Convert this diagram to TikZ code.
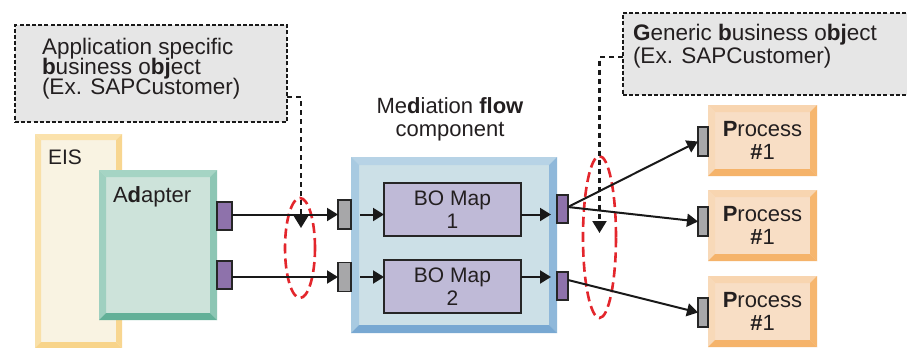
\documentclass[tikz,border=0pt]{standalone}
\usepackage{fontspec}
\setmainfont{Liberation Sans}
\usetikzlibrary{arrows.meta,calc,shapes.geometric}
\definecolor{txt}{HTML}{231F20}
\definecolor{dashfill}{HTML}{E6E6E6}
\definecolor{purp}{HTML}{8E72AB}
\definecolor{grayp}{HTML}{A7A7A9}
\definecolor{bofill}{HTML}{BFBAD7}
\definecolor{medin}{HTML}{CCE0E7}
\definecolor{medtop}{HTML}{B7D3E6}
\definecolor{medleft}{HTML}{A8CAE1}
\definecolor{medright}{HTML}{8FB8DA}
\definecolor{medbot}{HTML}{78A8D2}
\definecolor{adin}{HTML}{CDE3DA}
\definecolor{adtop}{HTML}{A5D4C4}
\definecolor{adleft}{HTML}{9FD0C0}
\definecolor{adright}{HTML}{8DC6B4}
\definecolor{adbot}{HTML}{63B098}
\definecolor{eisin}{HTML}{F9F3E2}
\definecolor{eistop}{HTML}{FBE2AC}
\definecolor{eisleft}{HTML}{F9E0A8}
\definecolor{eisright}{HTML}{F8D690}
\definecolor{eisbot}{HTML}{F8D48A}
\definecolor{prin}{HTML}{F8DEC5}
\definecolor{prtop}{HTML}{F8D5B0}
\definecolor{prleft}{HTML}{F8D9B8}
\definecolor{prright}{HTML}{F6B66E}
\definecolor{prbot}{HTML}{F5B36A}
\definecolor{redd}{HTML}{E3262C}
\newcommand\bevel[6]{%
  \fill[#3] (#1.north west) -- (#1.north east) -- ($(#1.north east)+(-#2,#2)$) -- ($(#1.north west)+(#2,#2)$) -- cycle;
  \fill[#4] (#1.north west) -- ($(#1.north west)+(#2,#2)$) -- ($(#1.south west)+(#2,-#2)$) -- (#1.south west) -- cycle;
  \fill[#5] (#1.north east) -- ($(#1.north east)+(-#2,#2)$) -- ($(#1.south east)+(-#2,-#2)$) -- (#1.south east) -- cycle;
  \fill[#6] (#1.south west) -- ($(#1.south west)+(#2,-#2)$) -- ($(#1.south east)+(-#2,-#2)$) -- (#1.south east) -- cycle;}
\tikzset{
  box/.style={rectangle, inner sep=0pt, outer sep=0pt, draw=none},
  lbl/.style={inner sep=0pt, outer sep=0pt, text=txt, font=\fontsize{11pt}{13pt}\selectfont},
  dlbl/.style={lbl, anchor=base west, font=\fontsize{11.25pt}{13pt}\selectfont},
  dbox/.style={box, fill=dashfill, draw=black!90, line width=1.2pt, dash pattern=on 2pt off 1.1pt},
  port/.style={box, draw=black!85, line width=0.8pt},
  arr/.style={draw=black!90, line width=1pt, -{Triangle[length=5.5pt,width=6.5pt]}},
  dconn/.style={draw=black!90, line width=1.1pt, dash pattern=on 2.5pt off 2pt, -{Triangle[length=6pt,width=7pt]}},
  redell/.style={ellipse, inner sep=0pt, outer sep=0pt, draw=redd, line width=1.3pt, dash pattern=on 5pt off 2.5pt},
}
\begin{document}
\begin{tikzpicture}[x=0.5pt,y=-0.5pt]
\useasboundingbox (0,0) rectangle (907,348);
\fill[white] (0,0) rectangle (907,348);

% dashed callout boxes
\node[dbox, minimum width=136pt, minimum height=48.5pt] (lbox) at (151,73.5) {};
\node[dlbl] (lt1) at (42,54.5) {Application specific};
\node[dlbl] (lt2) at (42,74.5) {\textbf{b}usiness o\textbf{bj}ect};
\node[dlbl] (lt3) at (42,94.5) {(Ex. SAPCustomer)};
\begin{scope}
\clip (0,0) rectangle (907,348);
\node[dbox, minimum width=151pt, minimum height=41pt] (rbox) at (774,54) {};
\end{scope}
\node[dlbl] (rt1) at (633,40) {\textbf{G}eneric \textbf{b}usiness o\textbf{bj}ect};
\node[dlbl] (rt2) at (633,63) {(Ex. SAPCustomer)};

% EIS and adapter
\node[box, fill=eisin, minimum width=43.5pt, minimum height=107pt] (eis) at (78.5,241) {};
\bevel{eis}{6}{eistop}{eisleft}{eisright}{eisbot}
\node[lbl, anchor=base west, font=\fontsize{10.5pt}{12pt}\selectfont] (eist) at (48,164) {EIS};
\node[box, fill=adin, minimum width=59pt, minimum height=75pt] (adapter) at (158,245) {};
\bevel{adapter}{7}{adtop}{adleft}{adright}{adbot}
\node[lbl, anchor=base west] (adt) at (113,202) {A\textbf{d}apter};
\node[port, fill=purp, minimum width=7.5pt, minimum height=14pt] (ap1) at (224.5,216) {};
\node[port, fill=purp, minimum width=7.5pt, minimum height=14pt] (ap2) at (224.5,275) {};

% mediation flow component
\node[lbl, anchor=base] (mt1) at (450,113) {Me\textbf{d}iation \textbf{flow}};
\node[lbl, anchor=base] (mt2) at (450,136) {component};
\node[box, fill=medin, minimum width=103pt, minimum height=88pt] (med) at (454,245) {};
\bevel{med}{8}{medtop}{medleft}{medright}{medbot}
\node[box, fill=bofill, draw=black!85, line width=1pt, minimum width=68.5pt, minimum height=26.5pt, align=center, text=txt, font=\fontsize{10.5pt}{11.5pt}\selectfont] (bo1) at (452.5,209.5) {BO Map\\1};
\node[box, fill=bofill, draw=black!85, line width=1pt, minimum width=68.5pt, minimum height=26.5pt, align=center, text=txt, font=\fontsize{10.5pt}{11.5pt}\selectfont] (bo2) at (452.5,286.5) {BO Map\\2};
\node[port, fill=grayp, minimum width=6.5pt, minimum height=14.5pt] (gp1) at (344.5,214.5) {};
\node[port, fill=grayp, minimum width=6.5pt, minimum height=14.5pt] (gp2) at (344.5,277) {};
\node[port, fill=purp, minimum width=5.5pt, minimum height=14pt] (pp1) at (562.5,209) {};
\node[port, fill=purp, minimum width=5.5pt, minimum height=14pt] (pp2) at (562.5,286) {};

% processes
\foreach \i/\y in {1/140.5,2/225.5,3/311.5}{
  \node[box, fill=prin, minimum width=54.5pt, minimum height=35.5pt, align=center, text=txt, font=\fontsize{11pt}{11.75pt}\selectfont] (pr\i) at (762.5,\y) {\textbf{P}rocess\\\textbf{\#}1};
  \bevel{pr\i}{7}{prtop}{prleft}{prright}{prbot}
}
\node[port, fill=grayp, minimum width=5pt, minimum height=14.5pt] (prg1) at (703,141.5) {};
\node[port, fill=grayp, minimum width=5pt, minimum height=14.5pt] (prg2) at (703,221.5) {};
\node[port, fill=grayp, minimum width=5pt, minimum height=14.5pt] (prg3) at (703,312.5) {};

% red ellipses
\node[redell, minimum width=15pt, minimum height=50pt] (ell1) at (300,248) {};
\node[redell, minimum width=16.5pt, minimum height=81pt] (ell2) at (599.5,237) {};

% connectors
\draw[arr] (ap1.east |- gp1.west) -- (gp1.west);
\draw[arr] (ap2.east |- gp2.west) -- (gp2.west);
\draw[arr] ([xshift=4.5pt]gp1.east) -- (gp1.east -| bo1.west);
\draw[arr] ([xshift=4.5pt]gp2.east) -- (gp2.east -| bo2.west);
\draw[arr, shorten >=3pt] (bo1.east |- gp1.east) -- (pp1.west |- gp1.east);
\draw[arr, shorten >=3pt] (bo2.east |- gp2.east) -- (pp2.west |- gp2.east);
\draw[arr] ([yshift=1pt]pp1.east) -- (prg1.west);
\draw[arr] ([yshift=1pt]pp1.east) -- (prg2.west);
\draw[arr] ([yshift=3pt]pp2.east) -- (prg3.west);

\coordinate (tip1) at (301,228);
\coordinate (tip2) at (599.5,233);
\draw[dconn] ([yshift=-11.75pt]lbox.east) -| (tip1);
\draw[dconn] ([yshift=-1.5pt]rbox.west) -| (tip2);
\end{tikzpicture}
\end{document}
